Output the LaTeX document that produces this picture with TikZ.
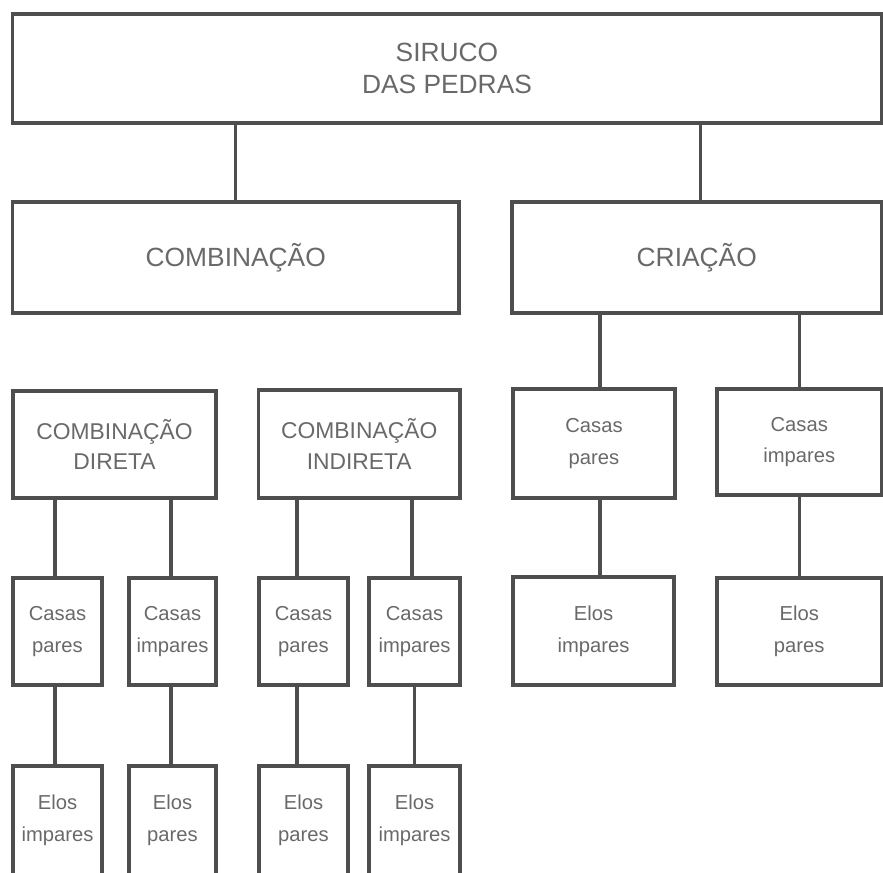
\documentclass[tikz,border=0pt]{standalone}
\usepackage{fontspec}
\setmainfont{Liberation Sans}
\usepackage{xcolor}
\usepackage{tikz}

\begin{document}
\begin{tikzpicture}[x=1cm,y=1cm]
\definecolor{cline}{RGB}{78,78,78}
\definecolor{ctext}{RGB}{105,105,105}
\tikzset{
  box/.style={draw=cline,line width=1.8pt,inner sep=0pt,align=center,text=ctext},
  bigbox/.style={box,font=\fontsize{15}{18}\selectfont},
  midbox/.style={box,font=\fontsize{13}{17.5}\selectfont},
  smallbox/.style={box,font=\fontsize{11.5}{18}\selectfont},
  link/.style={draw=cline,line width=1.8pt}
}
\useasboundingbox (0,0) rectangle (17.66,-17.46);
\clip (0,0) rectangle (17.66,-17.46);
\node[bigbox,minimum width=17.38cm,minimum height=2.18cm] (siruco) at (8.940,-1.370) {SIRUCO\\DAS PEDRAS};
\node[bigbox,minimum width=8.93cm,minimum height=2.22cm] (comb) at (4.715,-5.150) {COMBINAÇÃO};
\node[bigbox,minimum width=7.39cm,minimum height=2.22cm] (cria) at (13.935,-5.150) {CRIAÇÃO};
\node[midbox,minimum width=4.06cm,minimum height=2.14cm] (combdir) at (2.290,-8.890) {COMBINAÇÃO\\DIRETA};
\node[midbox,minimum width=4.03cm,minimum height=2.16cm] (combind) at (7.185,-8.880) {COMBINAÇÃO\\INDIRETA};
\node[smallbox,minimum width=3.24cm,minimum height=2.18cm] (criapar) at (11.880,-8.870) {Casas\\pares};
\node[smallbox,minimum width=3.29cm,minimum height=2.12cm] (criaimp) at (15.985,-8.840) {Casas\\impares};
\node[smallbox,minimum width=1.78cm,minimum height=2.14cm] (dirpar) at (1.150,-12.630) {Casas\\pares};
\node[smallbox,minimum width=1.74cm,minimum height=2.14cm] (dirimp) at (3.450,-12.630) {Casas\\impares};
\node[smallbox,minimum width=1.78cm,minimum height=2.14cm] (indpar) at (6.070,-12.630) {Casas\\pares};
\node[smallbox,minimum width=1.82cm,minimum height=2.14cm] (indimp) at (8.290,-12.630) {Casas\\impares};
\node[smallbox,minimum width=3.22cm,minimum height=2.16cm] (elocriaimp) at (11.870,-12.620) {Elos\\impares};
\node[smallbox,minimum width=3.29cm,minimum height=2.14cm] (elocriapar) at (15.985,-12.630) {Elos\\pares};
\node[smallbox,minimum width=1.78cm,minimum height=2.18cm] (elodirimp) at (1.150,-16.410) {Elos\\impares};
\node[smallbox,minimum width=1.74cm,minimum height=2.18cm] (elodirpar) at (3.450,-16.410) {Elos\\pares};
\node[smallbox,minimum width=1.78cm,minimum height=2.18cm] (eloindpar) at (6.070,-16.410) {Elos\\pares};
\node[smallbox,minimum width=1.82cm,minimum height=2.18cm] (eloindimp) at (8.290,-16.410) {Elos\\impares};
\draw[link] (comb.north) -- (comb.north |- siruco.south);
\draw[link] ([xshift=0.08cm]cria.north) -- ([xshift=0.08cm]cria.north |- siruco.south);
\draw[link] ([xshift=0.12cm]criapar.north) -- ([xshift=0.12cm]criapar.north |- cria.south);
\draw[link] (criaimp.north) -- (criaimp.north |- cria.south);
\draw[link] ([xshift=0.12cm]criapar.south) -- ([xshift=0.12cm]criapar.south |- elocriaimp.north);
\draw[link] (criaimp.south) -- (elocriapar.north);
\draw[link] ([xshift=-0.05cm]dirpar.north) -- ([xshift=-0.05cm]dirpar.north |- combdir.south);
\draw[link] ([xshift=-0.03cm]dirimp.north) -- ([xshift=-0.03cm]dirimp.north |- combdir.south);
\draw[link] ([xshift=-0.13cm]indpar.north) -- ([xshift=-0.13cm]indpar.north |- combind.south);
\draw[link] ([xshift=-0.05cm]indimp.north) -- ([xshift=-0.05cm]indimp.north |- combind.south);
\draw[link] ([xshift=-0.05cm]dirpar.south) -- ([xshift=-0.05cm]dirpar.south |- elodirimp.north);
\draw[link] ([xshift=-0.03cm]dirimp.south) -- ([xshift=-0.03cm]dirimp.south |- elodirpar.north);
\draw[link] ([xshift=-0.13cm]indpar.south) -- ([xshift=-0.13cm]indpar.south |- eloindpar.north);
\draw[link] (indimp.south) -- (indimp.south |- eloindimp.north);
\end{tikzpicture}
\end{document}
